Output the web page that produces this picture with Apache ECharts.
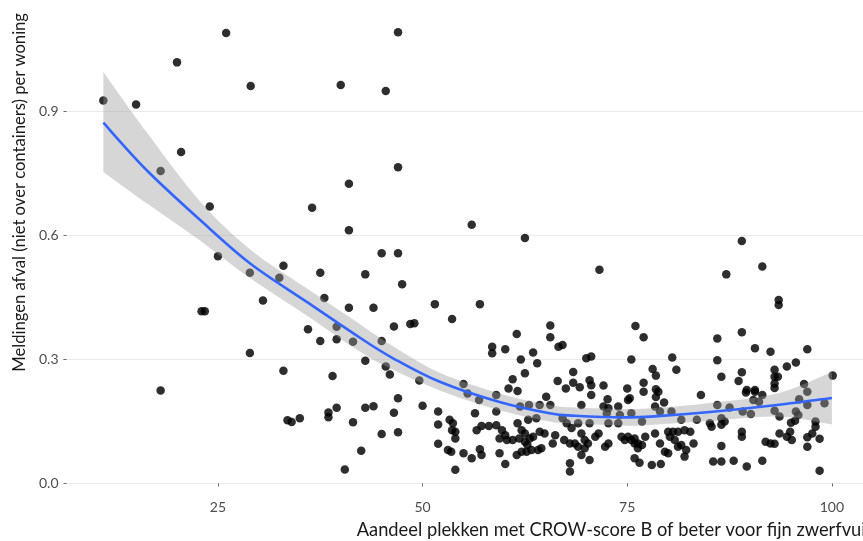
<!DOCTYPE html>
<html><head><meta charset="utf-8">
<script src="https://cdn.jsdelivr.net/npm/echarts@6/dist/echarts.min.js"></script>
<style>html,body{margin:0;padding:0;background:#fff}#c{width:863px;height:541px}</style>
</head><body><div id="c"></div>
<script>
const xTicks = [25, 50, 75, 100];
const yTicks = [0, 0.3, 0.6, 0.9];
const xTitle = 'Aandeel plekken met CROW-score B of beter voor fijn zwerfvuil';
const yTitle = 'Meldingen afval (niet over containers) per woning';

// scatter points: [aandeel, meldingen]
const punten = [
[11.0,0.927],[15.0,0.917],[20.0,1.019],[26.0,1.090],[29.0,0.962],[40.0,0.964],[45.5,0.950],[47.0,1.092],
[20.5,0.802],[18.0,0.756],[47.0,0.765],[56.0,0.626],[62.5,0.594],[71.6,0.517],[87.1,0.506],[89.0,0.587],
[91.5,0.525],[93.5,0.444],[93.5,0.432],[57.0,0.434],[24.0,0.670],[25.0,0.550],[28.9,0.510],[23.0,0.417],
[23.4,0.417],[28.9,0.316],[18.0,0.225],[41.0,0.725],[36.5,0.667],[41.0,0.613],[45.0,0.557],[47.0,0.557],
[33.0,0.527],[32.5,0.498],[37.5,0.510],[43.0,0.506],[47.5,0.482],[30.5,0.443],[38.0,0.449],[41.0,0.425],
[44.0,0.425],[51.5,0.434],[39.5,0.379],[46.5,0.380],[48.5,0.386],[49.0,0.388],[36.0,0.373],[37.5,0.345],
[39.5,0.349],[45.0,0.345],[41.5,0.343],[33.0,0.273],[39.0,0.260],[43.0,0.297],[45.5,0.283],[46.0,0.264],
[49.6,0.249],[47.0,0.206],[50.0,0.188],[51.9,0.174],[51.9,0.143],[51.9,0.096],[43.0,0.183],[44.0,0.187],
[46.5,0.171],[39.5,0.183],[38.5,0.172],[38.5,0.160],[33.5,0.153],[34.0,0.149],[35.0,0.158],[41.5,0.148],
[45.0,0.120],[47.0,0.124],[42.5,0.079],[40.5,0.034],
[53.6,0.398],[61.5,0.362],[65.6,0.382],[65.6,0.354],[66.6,0.331],[67.1,0.335],[58.5,0.331],[58.5,0.315],
[60.1,0.325],[63.5,0.317],[62.0,0.300],[64.0,0.291],[62.5,0.267],[61.0,0.252],[68.4,0.270],[66.5,0.248],
[68.4,0.244],[55.0,0.241],[60.5,0.230],[61.6,0.224],[67.5,0.230],
[59.0,0.214],[65.1,0.210],[55.5,0.218],[56.9,0.202],[61.9,0.186],[63.0,0.190],[64.3,0.190],[65.6,0.190],
[59.0,0.174],[62.9,0.154],[63.9,0.158],[67.1,0.158],[67.6,0.146],[53.3,0.154],[53.7,0.146],[56.4,0.170],
[53.6,0.129],[54.0,0.125],[54.0,0.109],[56.6,0.129],[57.2,0.139],[58.1,0.139],[59.0,0.141],[59.7,0.129],
[60.1,0.117],[59.4,0.109],[60.3,0.105],[61.0,0.105],[61.6,0.146],[62.1,0.129],[62.5,0.121],[63.1,0.109],
[61.8,0.109],[62.5,0.101],[62.8,0.093],[63.5,0.113],[64.9,0.121],[64.3,0.125],[66.2,0.117],[65.9,0.097],
[67.3,0.105],[68.0,0.097],[68.2,0.134],[53.1,0.081],[53.5,0.077],[55.0,0.073],[56.0,0.061],[57.0,0.083],
[57.2,0.069],[59.4,0.073],[60.1,0.047],[61.5,0.069],[62.1,0.077],[62.7,0.077],[63.3,0.081],[64.1,0.081],
[64.5,0.085],[54.0,0.033],[68.0,0.049],[68.0,0.029],
[76.0,0.381],[77.0,0.354],[70.0,0.303],[70.6,0.307],[75.5,0.300],[80.5,0.305],[81.0,0.275],[78.1,0.277],
[78.5,0.261],[70.4,0.250],[70.6,0.238],[72.1,0.237],[77.0,0.244],[75.0,0.230],[78.5,0.228],[69.2,0.233],
[70.6,0.214],[72.6,0.204],[75.1,0.202],[75.3,0.206],[77.0,0.222],[78.5,0.209],[78.8,0.222],[79.5,0.196],
[84.0,0.214],[69.4,0.190],[72.1,0.186],[72.7,0.182],[72.5,0.170],[73.9,0.186],[74.1,0.166],[75.5,0.170],
[78.4,0.186],[79.0,0.174],[80.4,0.174],[81.6,0.154],[83.5,0.154],[76.8,0.150],[73.9,0.146],[72.7,0.146],
[70.4,0.146],[69.0,0.146],[69.4,0.121],[69.8,0.105],[70.2,0.097],[71.5,0.121],[71.1,0.113],[72.7,0.097],
[72.3,0.089],[74.3,0.113],[74.7,0.105],[75.1,0.113],[75.5,0.105],[75.9,0.097],[75.9,0.109],[76.3,0.097],
[76.8,0.093],[77.2,0.113],[78.4,0.121],[79.0,0.097],[80.0,0.125],[80.6,0.125],[81.2,0.125],[82.0,0.129],
[82.7,0.125],[80.2,0.113],[80.8,0.105],[81.6,0.093],[81.2,0.089],[83.1,0.097],[79.6,0.077],[80.0,0.073],
[82.2,0.081],[82.0,0.065],[76.3,0.085],[75.9,0.061],[76.5,0.050],[70.4,0.057],[78.0,0.045],[79.1,0.047],
[68.6,0.097],[69.0,0.089],[69.4,0.069],[69.8,0.085],
[86.0,0.351],[89.0,0.366],[90.6,0.327],[92.5,0.319],[97.0,0.325],[86.0,0.298],[86.5,0.258],[89.0,0.269],
[88.6,0.248],[93.0,0.275],[93.0,0.258],[93.0,0.242],[93.4,0.258],[94.5,0.283],[95.6,0.293],[96.6,0.241],
[100.1,0.261],[89.6,0.226],[90.6,0.226],[93.0,0.231],
[89.5,0.220],[90.6,0.222],[91.5,0.214],[90.4,0.202],[91.1,0.198],[86.0,0.190],[87.5,0.184],[89.1,0.174],
[90.1,0.168],[93.0,0.176],[93.6,0.162],[96.0,0.204],[97.0,0.190],[97.0,0.222],[95.6,0.174],[95.9,0.166],
[99.1,0.194],[95.0,0.147],[95.5,0.152],[98.0,0.150],[98.0,0.137],[85.1,0.146],[85.3,0.137],[86.5,0.158],
[86.9,0.150],[86.5,0.142],[89.0,0.125],[89.0,0.113],[93.6,0.121],[94.9,0.125],[95.1,0.105],[94.5,0.113],
[91.9,0.101],[92.5,0.097],[93.0,0.096],[97.0,0.112],[97.6,0.121],[98.5,0.108],[97.0,0.089],[86.5,0.091],
[85.5,0.053],[86.5,0.053],[88.0,0.055],[89.6,0.041],[91.5,0.055],[98.5,0.031]
];

// smoothed trend and its confidence band
const smoothX     = [11.0, 16.3, 22.8, 28.9, 35.8, 42.4, 46.4, 52.1, 59.4, 65.5, 68.6, 75.1, 78.7, 85.1, 93.3, 100.0];
const smoothY     = [0.873,0.758,0.638,0.533,0.440,0.352,0.303,0.246,0.197,0.170,0.164,0.160,0.163,0.173,0.190,0.207];
const smoothLower = [0.754,0.678,0.588,0.497,0.407,0.318,0.275,0.225,0.177,0.150,0.145,0.140,0.143,0.151,0.162,0.143];
const smoothUpper = [0.996,0.850,0.683,0.567,0.473,0.385,0.332,0.268,0.218,0.190,0.184,0.180,0.183,0.195,0.218,0.270];

const FONT = 'Lato, "Open Sans", sans-serif';

// Catmull-Rom path through screen points (from api.coord)
function curvePath(pts, moveFirst) {
  let d = (moveFirst ? 'M' : 'L') + pts[0][0] + ',' + pts[0][1];
  for (let i = 0; i < pts.length - 1; i++) {
    const p0 = pts[Math.max(i - 1, 0)], p1 = pts[i], p2 = pts[i + 1], p3 = pts[Math.min(i + 2, pts.length - 1)];
    const c1 = [p1[0] + (p2[0] - p0[0]) / 6, p1[1] + (p2[1] - p0[1]) / 6];
    const c2 = [p2[0] - (p3[0] - p1[0]) / 6, p2[1] - (p3[1] - p1[1]) / 6];
    d += 'C' + c1[0] + ',' + c1[1] + ' ' + c2[0] + ',' + c2[1] + ' ' + p2[0] + ',' + p2[1];
  }
  return d;
}

const chart = echarts.init(document.getElementById('c'), null, {renderer: 'canvas'});
const option = {
  animation: false,
  grid: {left: 66.5, right: 0, top: 10.3, bottom: 47.6, containLabel: false},
  xAxis: {
    type: 'value', min: 6.5, max: 103.8,
    axisLine: {show: false},
    axisTick: {show: true, customValues: xTicks, length: 3, lineStyle: {color: '#666'}},
    axisLabel: {customValues: xTicks, margin: 7, color: '#4d4d4d', fontFamily: FONT, fontSize: 14},
    splitLine: {show: false}
  },
  yAxis: {
    type: 'value', min: -0.024, max: 1.145,
    axisLine: {show: false},
    axisTick: {show: true, customValues: yTicks, length: 3, lineStyle: {color: '#666'}},
    axisLabel: {customValues: yTicks, formatter: v => v.toFixed(1), margin: 8, color: '#4d4d4d', fontFamily: FONT, fontSize: 14},
    splitLine: {show: true, lineStyle: {color: '#ebebeb', width: 1}}
  },
  series: [
    {type: 'scatter', data: punten, symbolSize: 8.5, itemStyle: {color: '#000', opacity: 0.82, borderWidth: 0}, z: 2, silent: true},
    {type: 'custom', z: 3, silent: true, data: [[smoothX[0], smoothY[0]]],
     renderItem: function (params, api) {
       const up = smoothX.map((x, i) => api.coord([x, smoothUpper[i]]));
       const lo = smoothX.map((x, i) => api.coord([x, smoothLower[i]])).reverse();
       const d = curvePath(up, true) + curvePath(lo, false) + 'Z';
       return {type: 'path', shape: {pathData: d}, style: {fill: 'rgba(153,153,153,0.4)', stroke: null}};
     }},
    {type: 'custom', z: 4, silent: true, data: [[smoothX[0], smoothY[0]]],
     renderItem: function (params, api) {
       const pts = smoothX.map((x, i) => api.coord([x, smoothY[i]]));
       return {type: 'path', shape: {pathData: curvePath(pts, true)},
               style: {fill: null, stroke: '#3366FF', lineWidth: 2.6, lineJoin: 'round', lineCap: 'butt'}};
     }}
  ],
  graphic: [
    {type: 'text', x: 870, y: 530, silent: true,
     style: {text: xTitle, fill: '#1a1a1a', font: '18.3px ' + FONT, textAlign: 'right', textVerticalAlign: 'middle'}},
    {type: 'text', x: 20, y: 13, rotation: Math.PI / 2, silent: true,
     style: {text: yTitle, fill: '#1a1a1a', font: '16.6px ' + FONT, textAlign: 'right', textVerticalAlign: 'middle'}}
  ]
};
chart.setOption(option);
</script></body></html>
